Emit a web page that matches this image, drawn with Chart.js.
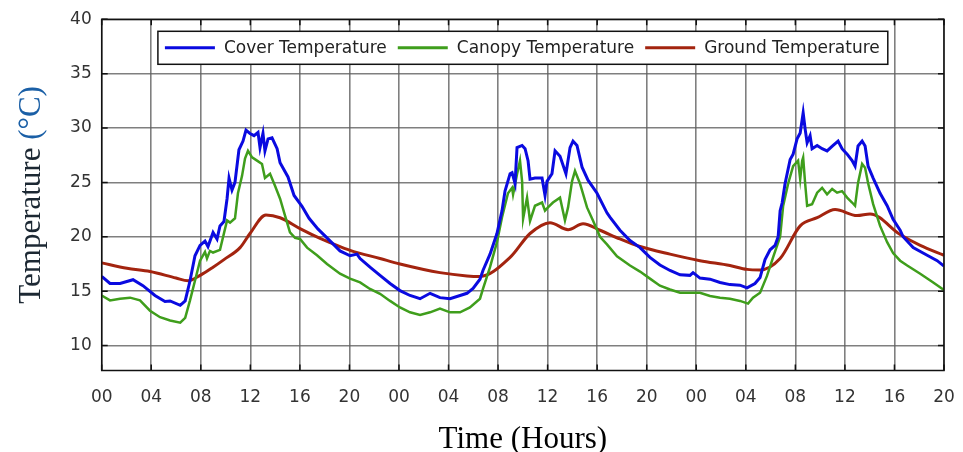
<!DOCTYPE html>
<html><head><meta charset="utf-8">
<script src="https://cdn.jsdelivr.net/npm/chart.js@4.4.1/dist/chart.umd.min.js"></script>
<style>html,body{margin:0;padding:0;background:#fff}#wrap{width:963px;height:452px;position:relative}canvas{display:block}</style>
</head><body><div id="wrap"><canvas id="c" width="963" height="452"></canvas></div>
<script>
// ---------------- DATA ----------------
const xTickLabels = ['00','04','08','12','16','20','00','04','08','12','16','20','00','04','08','12','16','20'];
const yTickValues = [10,15,20,25,30,35,40];
const seriesLabels = ['Cover Temperature','Canopy Temperature','Ground Temperature'];

// hours elapsed since first 00:00
const coverHours = [
 0,0.67,1.48,2.53,3.33,4.30,5.11,5.52,6.34,6.74,
 7.13,7.53,7.94,8.34,8.58,8.99,9.31,9.55,9.87,10.12,
 10.28,10.52,10.76,11.08,11.41,11.65,11.97,12.30,12.62,12.78,
 13.02,13.18,13.43,13.75,14.16,14.40,15.04,15.53,16.17,16.74,
 17.47,18.27,19.24,20.05,20.61,20.86,21.66,22.47,23.28,24.08,
 24.89,25.70,26.51,27.31,28.12,28.93,29.49,29.98,30.54,30.78,
 31.35,31.91,32.32,32.56,32.97,33.13,33.37,33.53,33.94,34.18,
 34.42,34.58,34.98,35.55,35.79,35.95,36.35,36.60,37.00,37.48,
 37.81,38.05,38.37,38.78,39.26,39.99,40.79,41.03,41.84,42.65,
 43.46,44.26,45.07,45.88,46.69,47.49,47.74,48.30,49.11,49.92,
 50.72,51.53,52.10,52.74,53.15,53.55,53.96,54.36,54.61,54.77,
 54.93,55.17,55.58,55.82,56.14,56.39,56.63,56.79,56.95,57.19,
 57.35,57.76,58.16,58.56,59.05,59.45,59.77,60.18,60.58,60.82,
 61.06,61.39,61.63,61.87,62.28,62.84,63.41,63.89,64.46,64.70,
 65.51,66.64,67.45,68];
const coverTemps = [
 16.35,15.7,15.7,16.05,15.5,14.6,14.05,14.1,13.7,14.1,
 15.95,18.25,19.2,19.6,19.1,20.4,19.8,21.0,21.4,23.5,
 25.4,24.3,25.0,28.0,28.8,29.8,29.5,29.3,29.6,28.2,
 29.5,27.9,29.0,29.1,28.1,26.8,25.5,23.8,22.8,21.7,
 20.7,19.8,18.7,18.25,18.4,18.0,17.2,16.45,15.7,15.05,
 14.6,14.3,14.8,14.4,14.3,14.6,14.8,15.25,16.1,16.9,
 18.4,20.3,22.4,24.2,25.8,25.9,24.9,28.2,28.4,28.1,
 27.0,25.3,25.4,25.4,23.8,25.1,25.8,27.9,27.4,25.8,
 28.2,28.8,28.4,26.4,25.2,24.0,22.2,21.8,20.6,19.65,
 19.0,18.1,17.4,16.9,16.5,16.45,16.7,16.2,16.1,15.8,
 15.6,15.55,15.3,15.7,16.25,17.9,18.8,19.2,20.0,22.4,
 23.1,24.9,27.1,27.6,29.0,29.55,31.4,29.9,28.65,29.3,
 28.1,28.4,28.1,27.9,28.4,28.8,28.1,27.6,27.0,26.5,
 28.35,28.8,28.35,26.5,25.4,24.0,22.85,21.6,20.6,20.0,
 19.0,18.3,17.8,17.3];

const canopyHours = [
 0,0.67,1.48,2.29,3.09,3.90,4.71,5.52,6.34,6.74,
 7.13,7.53,7.94,8.34,8.50,8.74,8.99,9.55,10.12,10.36,
 10.76,11.00,11.33,11.57,11.81,12.14,12.54,12.94,13.18,13.59,
 13.99,14.40,14.80,15.20,15.61,16.01,16.58,17.38,18.19,19.24,
 20.05,20.86,21.66,22.47,23.28,24.08,24.89,25.70,26.51,27.31,
 28.12,28.93,29.73,30.54,30.78,31.35,31.91,32.32,32.80,33.13,
 33.21,33.53,33.77,33.94,34.02,34.34,34.58,34.98,35.55,35.79,
 36.03,36.43,37.00,37.40,37.65,37.97,38.21,38.61,39.18,39.66,
 40.23,40.79,41.60,42.65,43.46,44.26,45.07,45.88,46.69,47.49,
 48.30,49.11,49.92,50.72,51.53,52.18,52.58,53.15,53.71,54.20,
 54.77,55.01,55.42,55.82,56.22,56.39,56.55,56.63,56.79,56.95,
 57.35,57.76,58.16,58.56,58.97,59.37,59.77,60.18,60.58,60.82,
 61.06,61.39,61.63,61.87,62.28,62.84,63.41,63.89,64.46,65.03,
 66.08,67.13,68];
const canopyTemps = [
 14.6,14.15,14.3,14.4,14.15,13.2,12.6,12.3,12.1,12.55,
 14.15,15.95,17.8,18.6,18.0,18.7,18.55,18.8,21.5,21.3,
 21.7,24.0,25.6,27.2,27.9,27.3,27.0,26.7,25.4,25.8,
 24.7,23.5,21.95,20.4,19.9,19.8,19.0,18.3,17.5,16.6,
 16.15,15.8,15.2,14.75,14.1,13.5,13.05,12.8,13.05,13.4,
 13.05,13.05,13.5,14.3,15.2,17.2,19.5,21.8,24.0,24.5,
 23.9,25.75,27.0,25.1,21.65,23.6,21.45,22.85,23.15,22.4,
 22.7,23.15,23.6,21.5,22.7,25.1,26.05,24.9,22.7,21.5,
 20.0,19.3,18.2,17.35,16.8,16.15,15.5,15.15,14.85,14.85,
 14.85,14.55,14.4,14.3,14.1,13.85,14.4,14.85,16.4,18.1,
 20.0,22.8,24.9,26.5,27.0,25.3,27.0,27.3,24.9,22.85,
 23.0,24.05,24.5,23.9,24.4,24.05,24.2,23.6,23.15,22.85,
 24.95,26.7,26.35,24.95,23.0,21.0,19.5,18.5,17.8,17.35,
 16.6,15.8,15.1];

const groundHours = [
 0,2.04,3.90,6.00,6.97,8.02,8.99,9.87,11.17,11.97,
 13.26,14.40,16.01,17.63,18.68,20.05,22.47,24.08,27.31,29.49,
 30.54,32.97,34.58,36.19,37.65,38.86,40.23,41.84,43.46,45.88,
 48.30,50.72,52.10,53.15,54.77,56.39,57.76,59.21,60.98,62.03,
 64.46,66.08,68];
const groundTemps = [
 17.6,17.1,16.8,16.2,15.95,16.5,17.2,17.9,19.0,20.3,
 22.0,21.75,20.75,19.85,19.35,18.75,18.0,17.5,16.7,16.4,
 16.35,18.1,20.3,21.3,20.65,21.2,20.6,19.8,19.1,18.4,
 17.8,17.35,17.0,16.95,18.0,21.0,21.75,22.5,21.95,22.1,
 20.2,19.2,18.3];

// ---------------- CHART ----------------
const pts = (xs, ys) => xs.map((x, i) => ({x, y: ys[i]}));
const COLORS = ['#0a0ae0', '#3f9e1c', '#a3240f'];

const frameTicks = {
  id: 'frameTicks',
  afterDatasetsDraw(chart) {
    const {ctx, chartArea: a, scales: {x, y}} = chart;
    ctx.save();
    ctx.strokeStyle = '#111';
    ctx.lineWidth = 1.5;
    const L = 6;
    ctx.beginPath();
    x.ticks.forEach(t => {
      const px = x.getPixelForValue(t.value);
      ctx.moveTo(px, a.top); ctx.lineTo(px, a.top + L);
      ctx.moveTo(px, a.bottom); ctx.lineTo(px, a.bottom - L);
    });
    y.ticks.forEach(t => {
      const py = y.getPixelForValue(t.value);
      ctx.moveTo(a.left, py); ctx.lineTo(a.left + L, py);
      ctx.moveTo(a.right, py); ctx.lineTo(a.right - L, py);
    });
    ctx.stroke();
    ctx.strokeRect(a.left, a.top, a.right - a.left, a.bottom - a.top);
    ctx.restore();
  }
};

const legendBox = {
  id: 'legendBox',
  afterDraw(chart) {
    const {ctx, chartArea: a} = chart;
    ctx.save();
    ctx.font = '17px "DejaVu Sans"';
    const items = chart.data.datasets.map(d => ({text: d.label, color: d.borderColor, w: ctx.measureText(d.label).width}));
    const lineLen = 50, gapLT = 9, gapItem = 11, padL = 7, padR = 8;
    const total = items.reduce((s, it) => s + lineLen + gapLT + it.w, 0) + gapItem * (items.length - 1);
    const boxW = total + padL + padR;
    const cx = (a.left + a.right) / 2;
    const bx = cx - boxW / 2, by = a.top + 12, bh = 33;
    ctx.fillStyle = '#fff';
    ctx.fillRect(bx, by, boxW, bh);
    ctx.strokeStyle = '#111';
    ctx.lineWidth = 1.5;
    ctx.strokeRect(bx, by, boxW, bh);
    let x = bx + padL;
    const yy = by + bh / 2;
    items.forEach(it => {
      ctx.strokeStyle = it.color;
      ctx.lineWidth = 3;
      ctx.beginPath(); ctx.moveTo(x, yy); ctx.lineTo(x + lineLen, yy); ctx.stroke();
      x += lineLen + gapLT;
      ctx.fillStyle = '#222';
      ctx.textBaseline = 'middle';
      ctx.textAlign = 'left';
      ctx.fillText(it.text, x, yy + 1);
      x += it.w + gapItem;
    });
    ctx.restore();
  }
};

const yTitle = {
  id: 'yTitle',
  afterDraw(chart) {
    const {ctx, chartArea: a} = chart;
    const t1 = 'Temperature ', t2 = '(°C)';
    ctx.save();
    ctx.font = '31px "Liberation Serif"';
    const w1 = ctx.measureText(t1).width, w2 = ctx.measureText(t2).width;
    ctx.translate(40, (a.top + a.bottom) / 2);
    ctx.rotate(-Math.PI / 2);
    ctx.textBaseline = 'alphabetic';
    ctx.textAlign = 'left';
    const start = -(w1 + w2) / 2;
    ctx.fillStyle = '#1c2833';
    ctx.fillText(t1, start, 0);
    ctx.fillStyle = '#1a5fa6';
    ctx.fillText(t2, start + w1, 0);
    ctx.restore();
  }
};

Chart.defaults.font.family = '"DejaVu Sans"';

new Chart(document.getElementById('c'), {
  type: 'line',
  data: {
    datasets: [
      {label: seriesLabels[0], data: pts(coverHours, coverTemps), borderColor: COLORS[0], borderWidth: 3, pointRadius: 0, tension: 0},
      {label: seriesLabels[1], data: pts(canopyHours, canopyTemps), borderColor: COLORS[1], borderWidth: 2.5, pointRadius: 0, tension: 0},
      {label: seriesLabels[2], data: pts(groundHours, groundTemps), borderColor: COLORS[2], borderWidth: 3, pointRadius: 0, cubicInterpolationMode: 'monotone'}
    ]
  },
  options: {
    responsive: false,
    animation: false,
    devicePixelRatio: 1,
    layout: {padding: {left: 0, right: 19, top: 19.3, bottom: 0}},
    plugins: {legend: {display: false}, tooltip: {enabled: false}},
    scales: {
      x: {
        type: 'linear', min: 0, max: 68,
        afterBuildTicks: s => { s.ticks = xTickLabels.map((_, i) => ({value: i * 4})); },
        ticks: {
          callback: (v) => xTickLabels[Math.round(v / 4)],
          autoSkip: false, maxRotation: 0, color: '#333', font: {size: 17}, padding: 17
        },
        grid: {color: 'rgba(95,95,95,0.8)', lineWidth: 1.6, drawTicks: false},
        border: {display: false},
        title: {display: true, text: 'Time (Hours)', color: '#000', font: {family: '"Liberation Serif"', size: 31, lineHeight: 1}, padding: {top: 0, bottom: -3}},
        afterFit: s => { s.height = 81.5; s.paddingLeft = 0; s.paddingRight = 0; }
      },
      y: {
        min: 7.7, max: 40,
        afterBuildTicks: s => { s.ticks = yTickValues.map(v => ({value: v})); },
        ticks: {color: '#333', font: {size: 17}, padding: 10},
        grid: {color: 'rgba(95,95,95,0.8)', lineWidth: 1.6, drawTicks: false},
        border: {display: false},
        afterFit: s => { s.width = 101.7; s.paddingTop = 0; s.paddingBottom = 0; }
      }
    }
  },
  plugins: [frameTicks, legendBox, yTitle]
});
</script>
</body></html>
